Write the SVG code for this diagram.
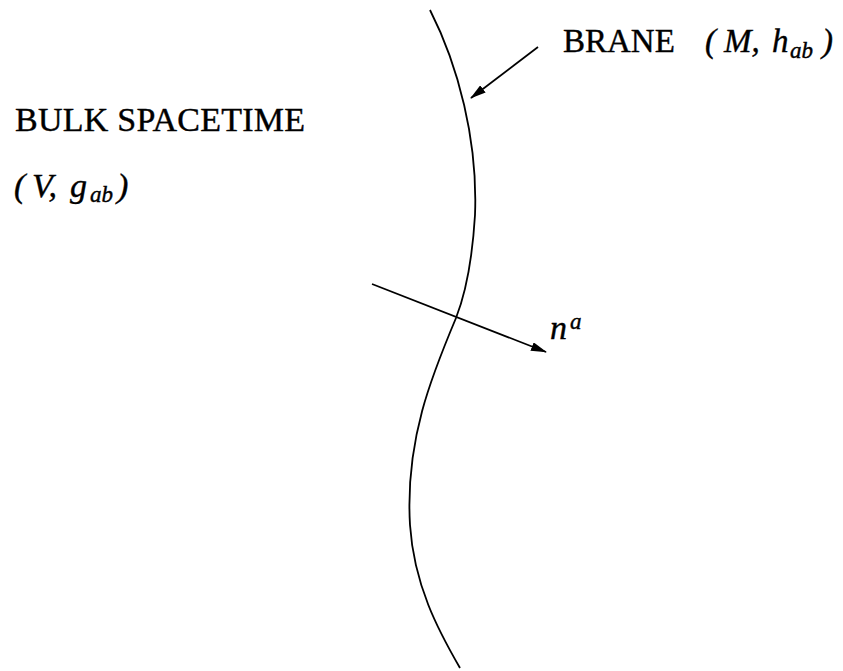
<svg xmlns="http://www.w3.org/2000/svg" width="843" height="671" viewBox="0 0 843 671">
<style>
.t{font-family:"Liberation Serif",serif;font-size:34px;fill:#000;stroke:#000;stroke-width:0.4}
.b{font-size:33px}
.i{font-style:italic}
.s{font-size:23px;font-style:italic}
.ln{fill:none;stroke:#000;stroke-width:1.8}
</style>
<defs>
<marker id="ah" markerWidth="16" markerHeight="9" refX="15" refY="4.5" orient="auto" markerUnits="userSpaceOnUse">
<path d="M0,0 L16,4.5 L0,9 z" fill="#000"/>
</marker>
</defs>
<rect width="843" height="671" fill="#fff"/>
<g id="brane">
<path class="ln" d="M430,10 C458,65 478,140 475,215 C472,265 465,295 456,318 C432,375 405,440 410,525 C414,585 438,630 460,668"/>
</g>
<g id="connectors">
<line class="ln" x1="538" y1="47" x2="471" y2="98" marker-end="url(#ah)"/>
<line class="ln" x1="372" y1="284" x2="546" y2="352" marker-end="url(#ah)"/>
</g>
<g id="labels">
<text class="t b" x="563" y="52">BRANE</text>
<text class="t b i" y="52"><tspan x="705">(</tspan><tspan x="724">M,</tspan><tspan x="772">h</tspan><tspan class="s" x="790" dy="6">ab</tspan><tspan x="822" dy="-6">)</tspan></text>
<text class="t" x="15" y="131" textLength="290">BULK SPACETIME</text>
<text class="t i" y="197"><tspan x="14">(</tspan><tspan x="32">V,</tspan><tspan x="70">g</tspan><tspan class="s" x="90" dy="5">ab</tspan><tspan x="117" dy="-5">)</tspan></text>
<text class="t i" x="550" y="339">n<tspan class="s" x="570" dy="-10">a</tspan></text>
</g>
</svg>
